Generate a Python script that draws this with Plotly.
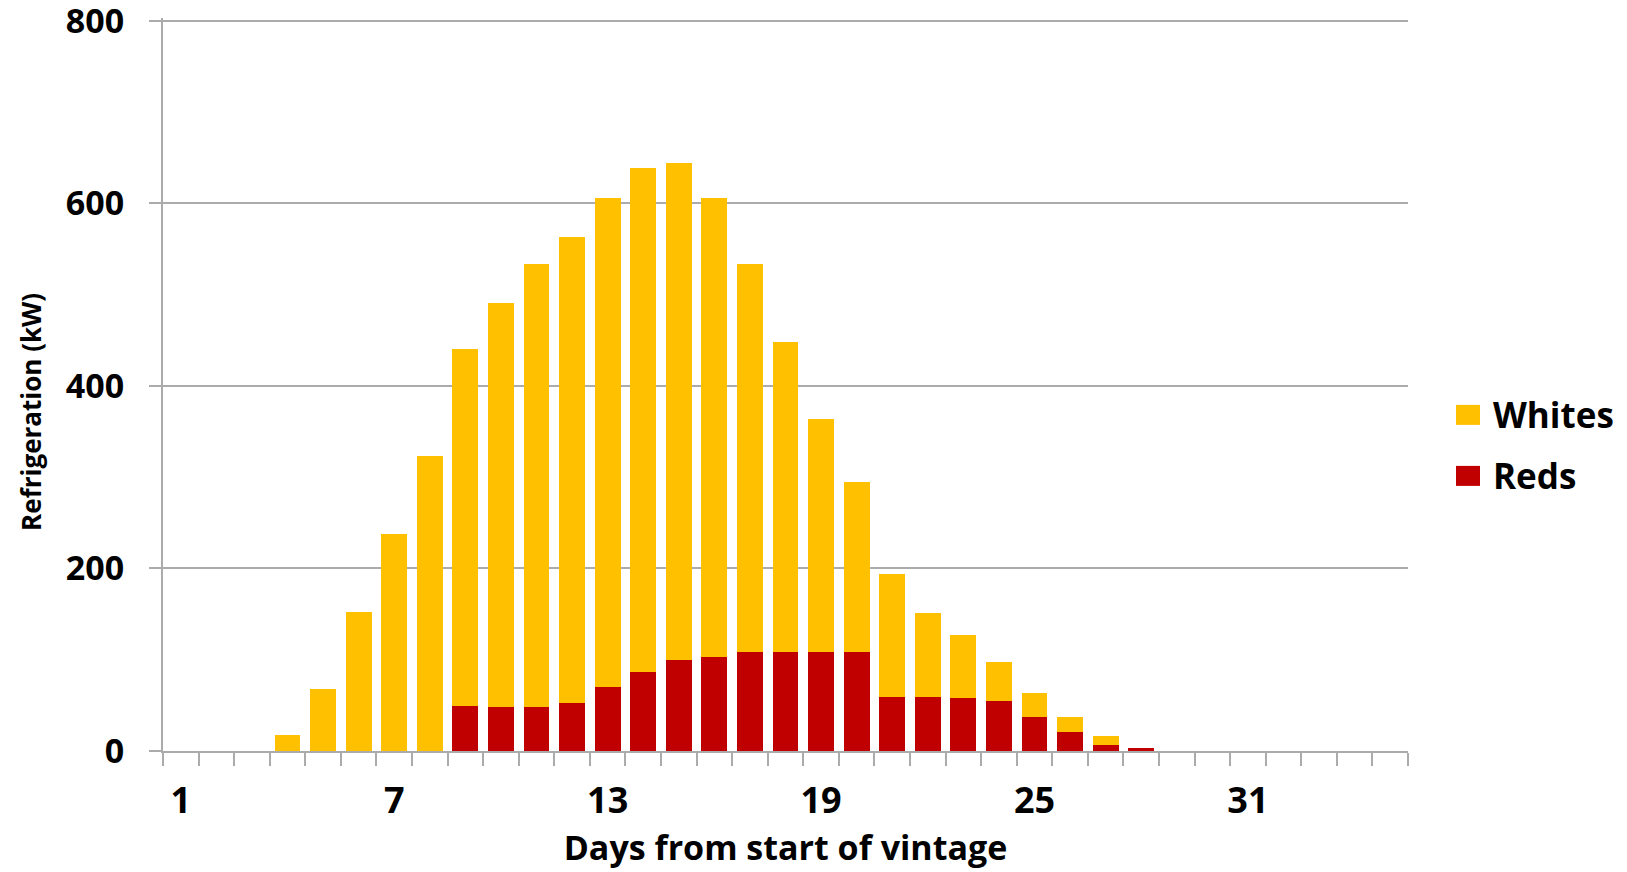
import plotly.graph_objects as go

# Daily refrigeration load by wine type over the vintage
days = list(range(1, 36))
reds = [0, 0, 0, 0, 0, 0, 0, 0, 49, 48, 48, 53, 70, 87, 100, 103, 108, 108, 108, 108,
        59, 59, 58, 55, 37, 21, 7, 3, 0, 0, 0, 0, 0, 0, 0]
whites = [0, 0, 0, 17, 68, 152, 238, 323, 391, 443, 485, 510, 536, 552, 544, 503, 425, 340, 256, 187,
          135, 92, 69, 42, 27, 16, 9, 0, 0, 0, 0, 0, 0, 0, 0]
tick_days = [1, 7, 13, 19, 25, 31]
y_ticks = [0, 200, 400, 600, 800]
series_names = ["Whites", "Reds"]
series_colors = {"Whites": "#FFC000", "Reds": "#C00000"}

FONT = "Open Sans"
GRID = "#ABABAB"
W, H = 1627, 872
Y_MAX = 803          # a little headroom so the 800 gridline is kept
L, R, B = 163, 219, 121
T = 21 - (Y_MAX - 800) * (872 - 121 - 21) / 800
PW, PH = W - L - R, H - T - B

fig = go.Figure()
fig.add_trace(go.Bar(x=days, y=reds, name="Reds", showlegend=False,
                     marker=dict(color=series_colors["Reds"], line=dict(width=0))))
fig.add_trace(go.Bar(x=days, y=whites, name="Whites", showlegend=False,
                     marker=dict(color=series_colors["Whites"], line=dict(width=0))))


def px_to_paper(px, py):
    return (px - L) / PW, (H - B - py) / PH


# Legend drawn by hand: coloured square plus bold label, one row per series
shapes, annotations = [], []
for i, name in enumerate(series_names):
    cy = 415 + i * 61
    x0, y0 = px_to_paper(1456, cy + 10)
    x1, y1 = px_to_paper(1480, cy - 10)
    shapes.append(dict(type="rect", xref="paper", yref="paper", x0=x0, x1=x1, y0=y0, y1=y1,
                       fillcolor=series_colors[name], line=dict(width=0)))
    tx, ty = px_to_paper(1491, cy)
    annotations.append(dict(text=name, xref="paper", yref="paper", x=tx, y=ty, xanchor="left",
                            yanchor="middle", showarrow=False,
                            font=dict(size=35, family=FONT, color="black", weight="bold")))

# Vertical axis title, sitting a little below the middle of the plot
yt_x, yt_y = px_to_paper(31, 412)
annotations.append(dict(text="Refrigeration (kW)", xref="paper", yref="paper", x=yt_x, y=yt_y,
                        xanchor="center", yanchor="middle", textangle=-90, showarrow=False,
                        font=dict(size=26, family=FONT, color="black", weight="bold")))

fig.update_layout(
    barmode="stack",
    bargap=0.27,
    width=W, height=H,
    margin=dict(l=L, r=R, t=T, b=B, autoexpand=False),
    plot_bgcolor="white", paper_bgcolor="white",
    font=dict(family=FONT, color="black", size=32, weight="bold"),
    showlegend=False,
    shapes=shapes,
    annotations=annotations,
    xaxis=dict(
        range=[0.5, 35.5], tickmode="array", tickvals=tick_days, ticktext=[str(d) for d in tick_days],
        ticks="", showgrid=False, showline=True, linecolor=GRID, linewidth=2, automargin=False,
        tickfont=dict(size=36, family=FONT, weight="bold"), ticklabelstandoff=17,
        minor=dict(tick0=0.5, dtick=1, ticks="outside", ticklen=13, tickcolor=GRID, tickwidth=2, showgrid=False),
        title=dict(text="Days from start of vintage", font=dict(size=34, family=FONT, weight="bold"), standoff=12),
        zeroline=False,
    ),
    yaxis=dict(
        range=[0, Y_MAX], tickmode="array", tickvals=y_ticks, showgrid=True, gridcolor=GRID, gridwidth=2,
        showline=True, linecolor=GRID, linewidth=2, ticks="outside", ticklen=12, tickcolor=GRID, tickwidth=2,
        tickfont=dict(size=34, family=FONT, weight="bold"), ticklabelstandoff=18,
        ticklabeloverflow="allow", automargin=False,
        zeroline=False,
    ),
)

fig.write_html("out.html")
